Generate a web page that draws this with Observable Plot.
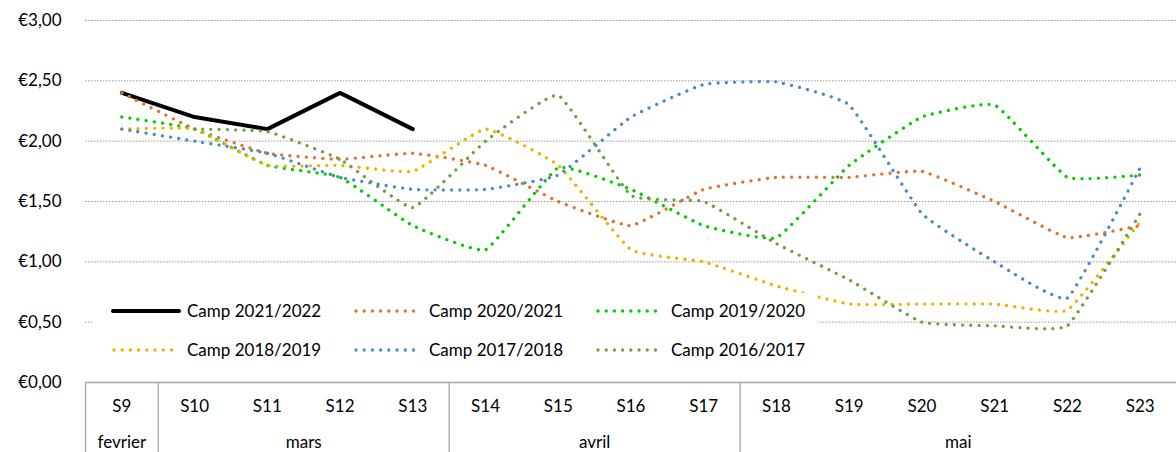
<!DOCTYPE html>
<html><head><meta charset="utf-8">
<script src="https://cdn.jsdelivr.net/npm/d3@7"></script>
<script src="https://cdn.jsdelivr.net/npm/@observablehq/plot@0.6"></script>
<style>
body{margin:0;background:#fff;}
#wrap{position:relative;width:1176px;height:452px;font-family:Lato,sans-serif;}
#legend{position:absolute;left:92px;top:293px;width:726px;height:78px;background:#fff;}
.item{position:absolute;display:flex;align-items:center;font-size:17px;color:#000;height:20px;line-height:20px;}
.item svg{margin-right:6px;}
</style></head><body><div id="wrap"></div>
<script>
const weeks = ["S9","S10","S11","S12","S13","S14","S15","S16","S17","S18","S19","S20","S21","S22","S23"];
const monthNames = ["fevrier","mars","avril","mai"];
const monthFirst = [0,1,5,9];
const monthLast = [0,4,8,14];
const yTicks = [0,0.5,1,1.5,2,2.5,3];

const seriesNames = ["Camp 2021/2022","Camp 2020/2021","Camp 2019/2020","Camp 2018/2019","Camp 2017/2018","Camp 2016/2017"];
const camp2122 = [2.40,2.20,2.10,2.40,2.10,null,null,null,null,null,null,null,null,null,null];
const camp2021 = [2.40,2.10,1.90,1.85,1.90,1.80,1.50,1.30,1.60,1.70,1.70,1.75,1.50,1.20,1.30];
const camp1920 = [2.20,2.10,1.80,1.70,1.30,1.10,1.78,1.60,1.30,1.20,1.80,2.20,2.30,1.70,1.72];
const camp1819 = [2.10,2.10,1.80,1.80,1.75,2.10,1.80,1.10,1.00,0.80,0.65,0.65,0.65,0.60,1.33];
const camp1718 = [2.10,2.00,1.90,1.70,1.60,1.60,1.72,2.20,2.47,2.49,2.30,1.40,1.00,0.70,1.78];
const camp1617 = [null,2.10,2.08,1.85,1.45,2.00,2.38,1.55,1.50,1.15,0.85,0.50,0.47,0.47,1.40];

const seriesValues = [camp2122,camp2021,camp1920,camp1819,camp1718,camp1617];
const colors = ["#000000","#E2712F","#00CC00","#F0B000","#4D89C8","#6BA043"];

const DOT = "0.01 8.2";
const styles = seriesNames.map((n,k)=> k===0
  ? {stroke:colors[k], strokeWidth:4, strokeDasharray:null, curve:"linear"}
  : {stroke:colors[k], strokeWidth:3.3, strokeDasharray:DOT, curve:"cardinal"});

const fmt = d => "€" + d.toFixed(2).replace(".", ",");
const separators = [-0.5, 0.5, 4.5, 8.5];

const lineMarks = seriesValues.map((vals,k)=>{
  const data = vals.map((v,i)=>({i, v}));
  return Plot.line(data, {x:"i", y:"v", stroke:styles[k].stroke, strokeWidth:styles[k].strokeWidth,
    strokeDasharray:styles[k].strokeDasharray, strokeLinecap:"round", strokeLinejoin:"round",
    curve:styles[k].curve, tension:0.65});
});

const chart = Plot.plot({
  width:1176, height:452, marginLeft:85, marginRight:0, marginTop:20, marginBottom:70,
  x:{type:"linear", domain:[-0.5,14.5], axis:null},
  y:{domain:[0,3], axis:null},
  style:{fontFamily:"Lato, sans-serif", color:"#000", background:"#fff", overflow:"visible"},
  marks:[
    Plot.ruleY(yTicks.filter(d=>d>0), {y:d=>d, stroke:"#9A9A9A", strokeWidth:1, strokeDasharray:"1.5 1.5"}),
    Plot.axisY({ticks:yTicks, tickFormat:fmt, tickSize:0, tickPadding:24, fontSize:17, label:null}),
    Plot.ruleY([0], {y:d=>d, stroke:"#A6A6A6", strokeWidth:1.3}),
    Plot.ruleX(separators, {x:d=>d, y1:()=>0, y2:()=>-0.62, stroke:"#A6A6A6", strokeWidth:1.3}),
    Plot.text(weeks, {x:(d,i)=>i, y:()=>-0.2, text:d=>d, fontSize:17, fill:"#000"}),
    Plot.text(monthNames, {x:(d,i)=>(monthFirst[i]+monthLast[i])/2, y:()=>-0.5, text:d=>d, fontSize:17, fill:"#000"}),
    ...lineMarks
  ]
});

const wrap = document.getElementById("wrap");
wrap.appendChild(chart);

const legend = document.createElement("div");
legend.id = "legend";
const colX = [19, 261, 503];
const rowY = [8, 47];
seriesNames.forEach((n,k)=>{
  const item = document.createElement("div");
  item.className = "item";
  item.style.left = colX[k%3] + "px";
  item.style.top = rowY[Math.floor(k/3)] + "px";
  const st = styles[k];
  item.innerHTML = `<svg width="70" height="10"><line x1="${k===0?2:3}" y1="5" x2="68" y2="5" stroke="${st.stroke}" stroke-width="${st.strokeWidth}" stroke-linecap="round" ${st.strokeDasharray?`stroke-dasharray="${st.strokeDasharray}"`:""}/></svg><span>${n}</span>`;
  legend.appendChild(item);
});
wrap.appendChild(legend);
</script>
</body></html>
